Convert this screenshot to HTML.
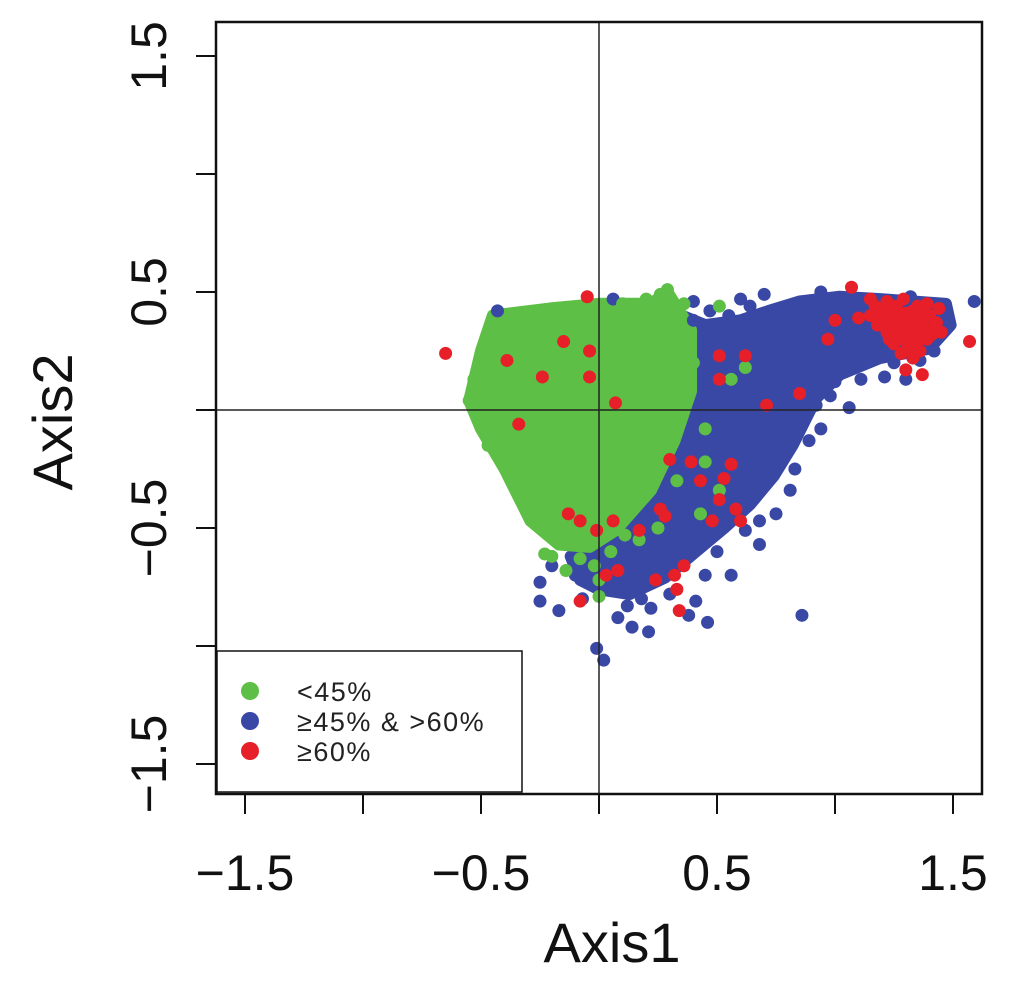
<!DOCTYPE html>
<html><head><meta charset="utf-8"><style>
html,body{margin:0;padding:0;background:#fff;}
svg{display:block;font-family:"Liberation Sans",Arial,sans-serif;}
</style></head><body>
<svg id="chart" width="1024" height="985" viewBox="0 0 1024 985" xmlns="http://www.w3.org/2000/svg">
<g id="regions"></g>
<g id="points"></g>
<g id="axes"></g>
</svg>
<script>
const xTicks=[-1.5,-1.0,-0.5,0,0.5,1.0,1.5];
const xTickLabels=["\u22121.5","","\u22120.5","","0.5","","1.5"];
const yTicks=[1.5,1.0,0.5,0,-0.5,-1.0,-1.5];
const yTickLabels=["1.5","","0.5","","\u22120.5","","\u22121.5"];
const greenCore=[[-0.55,0.04],[-0.50,0.25],[-0.45,0.40],[-0.21,0.43],[0,0.45],[0.22,0.45],[0.29,0.50],[0.39,0.34],[0.39,0.08],[0.32,-0.13],[0.22,-0.34],[0.07,-0.51],[-0.04,-0.58],[-0.17,-0.57],[-0.29,-0.47],[-0.40,-0.25],[-0.50,-0.08]];
const blueBand=[[-0.12,-0.62],[0.17,-0.47],[0.30,-0.20],[0.35,0.10],[0.35,0.40],[0.45,0.36],[0.60,0.38],[0.72,0.42],[0.85,0.46],[1.02,0.48],[1.19,0.47],[1.47,0.45],[1.49,0.36],[1.40,0.26],[1.19,0.22],[1.02,0.15],[0.92,0.05],[0.87,-0.05],[0.82,-0.15],[0.74,-0.28],[0.64,-0.40],[0.53,-0.50],[0.41,-0.60],[0.28,-0.71],[0.13,-0.78],[0.00,-0.76],[-0.08,-0.72]];
const bluePts=[[-0.25,-0.73],[-0.25,-0.81],[-0.17,-0.85],[-0.07,-0.80],[0.14,-0.92],[0.21,-0.94],[0.46,-0.90],[0.56,-0.70],[0.86,-0.87],[-0.01,-1.01],[0.02,-1.06],[0.12,-0.83],[0.41,-0.81],[0.68,-0.47],[0.75,-0.44],[0.81,-0.34],[0.83,-0.25],[0.89,-0.13],[0.94,-0.08],[1.06,0.01],[1.11,0.13],[1.21,0.14],[1.30,0.13],[1.36,0.21],[1.59,0.46],[-0.43,0.42],[0.06,0.47],[0.60,0.47],[0.70,0.49],[0.94,0.50],[1.15,0.47],[0.98,0.06],[0.68,-0.57],[0.62,-0.51],[0.53,-0.47],[0.30,-0.78],[0.18,-0.80],[0.08,-0.88],[-0.20,-0.66],[0.45,-0.70],[0.50,-0.60],[0.35,-0.65],[0.92,0.02],[0.78,-0.05],[0.74,-0.18],[1.08,0.22],[1.25,0.20],[1.42,0.25],[1.45,0.42],[1.32,0.48],[0.65,0.30],[0.55,0.40],[0.47,0.42],[0.40,0.38],[0.88,0.30],[0.95,0.38],[0.78,0.20],[0.70,0.08],[0.62,-0.10],[0.55,-0.28],[0.40,-0.45],[0.28,-0.55],[0.15,-0.65],[0.00,-0.68],[-0.10,-0.70],[0.22,-0.84],[0.38,-0.87],[0.80,0.12],[0.86,0.20],[1.00,0.12],[0.40,0.46],[0.64,0.44]];
const redPts=[[-0.65,0.24],[-0.39,0.21],[-0.24,0.14],[-0.15,0.29],[-0.04,0.14],[-0.04,0.25],[-0.05,0.48],[0.07,0.03],[-0.34,-0.06],[-0.13,-0.44],[-0.08,-0.47],[-0.01,-0.51],[0.06,-0.47],[0.03,-0.70],[-0.08,-0.81],[0.08,-0.68],[0.17,-0.51],[0.26,-0.42],[0.28,-0.45],[0.24,-0.72],[0.32,-0.70],[0.36,-0.66],[0.33,-0.76],[0.34,-0.85],[0.30,-0.21],[0.39,-0.22],[0.43,-0.30],[0.53,-0.29],[0.56,-0.23],[0.48,-0.47],[0.51,-0.38],[0.58,-0.42],[0.60,-0.47],[0.51,0.13],[0.51,0.23],[0.62,0.23],[0.71,0.02],[0.85,0.07],[0.97,0.30],[1.00,0.38],[1.10,0.39],[1.07,0.52],[1.15,0.47],[1.22,0.46],[1.57,0.29],[1.37,0.15],[1.30,0.17],
[1.15,0.40],[1.18,0.36],[1.20,0.42],[1.22,0.33],[1.24,0.38],[1.26,0.44],[1.27,0.30],[1.28,0.36],[1.30,0.41],[1.31,0.26],[1.32,0.33],[1.34,0.38],[1.35,0.44],[1.36,0.30],[1.38,0.35],[1.40,0.40],[1.41,0.32],[1.43,0.37],[1.44,0.43],[1.33,0.22],[1.28,0.24],[1.36,0.25],[1.45,0.33],[1.25,0.28],[1.21,0.38],[1.39,0.45],[1.29,0.47],
[1.17,0.44],[1.19,0.39],[1.23,0.41],[1.25,0.35],[1.27,0.39],[1.29,0.33],[1.31,0.37],[1.33,0.42],[1.35,0.35],[1.37,0.40],[1.39,0.30],[1.42,0.35],[1.30,0.29],[1.34,0.28],[1.26,0.32],[1.23,0.30]];
const greenPts=[[0.29,0.51],[0.51,0.44],[0.62,0.18],[0.56,0.13],[0.45,-0.08],[0.45,-0.22],[0.51,-0.34],[0.43,-0.44],[0.11,-0.53],[0.17,-0.55],[0.00,-0.72],[0.00,-0.79],[-0.23,-0.61],[-0.14,-0.68],[-0.36,0.40],[-0.25,0.42],[-0.53,0.13],[-0.55,0.04],[-0.52,-0.02],[0.40,0.20],[0.36,0.45],[0.33,-0.30],[0.25,-0.50],[-0.20,-0.62],[-0.08,-0.63],[0.05,-0.60],[0.20,0.47],[0.10,0.45],[-0.45,0.35],[-0.47,-0.15],[0.26,0.49],[-0.02,-0.66]];

const X0=599, Y0=410, K=236;
const L=216, R=982, T=22, B=794;
const sx=v=>X0+v*K, sy=v=>Y0-v*K;
const NS="http://www.w3.org/2000/svg";
function mk(tag,attrs,parent){const e=document.createElementNS(NS,tag);for(const k in attrs)e.setAttribute(k,attrs[k]);parent.appendChild(e);return e;}
const regions=document.getElementById('regions'), points=document.getElementById('points'), axes=document.getElementById('axes');
const GREEN="#5dbf46", BLUE="#3a48a5", RED="#e61f28";

function poly(arr,color,name){
  const p=mk('polygon',{points:arr.map(d=>sx(d[0])+','+sy(d[1])).join(' '),fill:color,stroke:color,'stroke-width':12,'stroke-linejoin':'round'},regions);
  
  
}
poly(blueBand,BLUE,'blue-density-region');
function dots(arr,color,name){
  arr.forEach(d=>{
    const c=mk('circle',{cx:sx(d[0]),cy:sy(d[1]),r:6.5,fill:color},points);
    
    
  });
}
dots(bluePts,BLUE,'blue-point');
poly(greenCore,GREEN,'green-density-region');
dots(greenPts,GREEN,'green-point');
dots(redPts,RED,'red-point');

let l=mk('line',{x1:L,x2:R,y1:sy(0),y2:sy(0),stroke:'#222','stroke-width':1.5},axes);


l=mk('line',{x1:sx(0),x2:sx(0),y1:T,y2:B,stroke:'#222','stroke-width':1.5},axes);



const fr=mk('rect',{x:L,y:T,width:R-L,height:B-T,fill:'none',stroke:'#111','stroke-width':2.5},axes);



xTicks.forEach((v,i)=>{
  const t=mk('line',{x1:sx(v),x2:sx(v),y1:B,y2:B+20,stroke:'#111','stroke-width':2},axes);
  
  
  if(xTickLabels[i]){
    const tx=mk('text',{x:sx(v),y:890,'text-anchor':'middle','font-size':50,fill:'#111'},axes);
    tx.textContent=xTickLabels[i];
    
    
  }
});
yTicks.forEach((v,i)=>{
  const t=mk('line',{x1:L-20,x2:L,y1:sy(v),y2:sy(v),stroke:'#111','stroke-width':2},axes);
  
  
  if(yTickLabels[i]){
    const tx=mk('text',{x:0,y:0,'text-anchor':'middle','font-size':50,fill:'#111',transform:`translate(166,${sy(v)}) rotate(-90)`},axes);
    tx.textContent=yTickLabels[i];
    
    
  }
});
let at=mk('text',{x:612,y:962,'text-anchor':'middle','font-size':56,fill:'#111'},axes);
at.textContent='Axis1';


at=mk('text',{x:0,y:0,'text-anchor':'middle','font-size':56,fill:'#111',transform:'translate(72,422) rotate(-90)'},axes);
at.textContent='Axis2';



const leg=mk('g',{},axes);


const lr=mk('rect',{x:217,y:651,width:305,height:141,fill:'#fff',stroke:'#111','stroke-width':1.5},leg);


const legendLabels=["<45%","\u226545% & >60%","\u226560%"];
const legendColors=[GREEN,BLUE,RED];
legendLabels.forEach((s,i)=>{
  const y=691+i*30;
  const c=mk('circle',{cx:250,cy:y,r:9,fill:legendColors[i]},leg);
  
  
  const t=mk('text',{x:297,y:y+10,'font-size':27,fill:'#222','letter-spacing':'1.5'},leg);
  t.textContent=s;
  
  
});
</script>
</body></html>
